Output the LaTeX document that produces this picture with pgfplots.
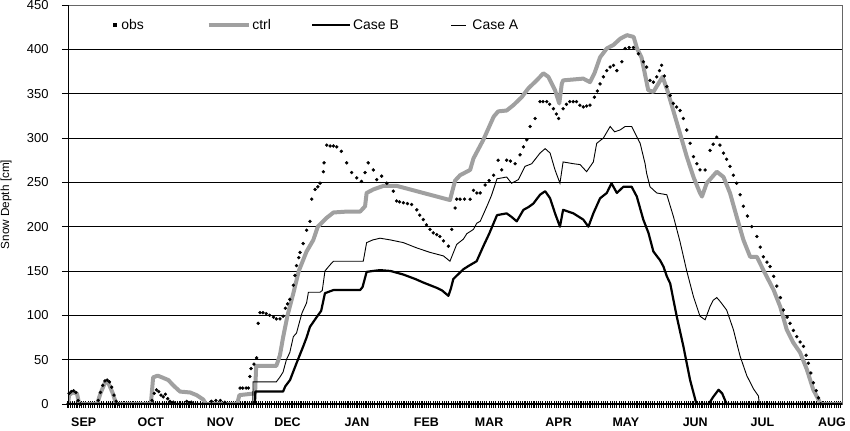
\documentclass[border=0pt]{standalone}
\usepackage{fontspec}
\setmainfont{Liberation Sans}
\usepackage{pgfplots}
\pgfplotsset{compat=1.18}
\definecolor{ctrlgray}{RGB}{160,160,160}

\begin{document}
\begin{tikzpicture}
\begin{axis}[
    scale only axis,
    width=774bp, height=399bp,
    xmin=0, xmax=345.5,
    ymin=0, ymax=450,
    xtick={7,37,68,98,129,160,188,219,249,280,310,341},
    xticklabels={SEP,OCT,NOV,DEC,JAN,FEB,MAR,APR,MAY,JUN,JUL,AUG},
    minor xtick={0,1,...,345},
    ytick={0,50,...,450},
    ymajorgrids=true,
    grid style={black, line width=0.6bp},
    tick pos=left, tick align=center,
    major tick length=12bp, minor tick length=7bp,
    major x tick style={draw=none},
    minor x tick style={black, line width=1.1bp},
    major y tick style={black, line width=0.6bp},
    axis line style={black!60, line width=0.6bp},
    /pgf/number format/assume math mode=true,
    yticklabel style={font=\fontsize{13}{15}\selectfont, xshift=-10bp},
    xticklabel style={font=\fontsize{12.5}{14}\selectfont\bfseries, yshift=-4.5bp},
    ylabel={Snow Depth [cm]},
    every axis y label/.style={at={(rel axis cs:0,0.5)}, xshift=-62bp, rotate=90, anchor=center, font=\fontsize{11.8}{13}\selectfont},
    legend columns=-1,
    legend style={at={(rel axis cs:0.054,0.95)}, anchor=west, draw=none, fill=none,
        font=\fontsize{14}{16}\selectfont,
        /tikz/column 2/.style={column sep=61bp},
        /tikz/column 4/.style={column sep=38bp},
        /tikz/column 6/.style={column sep=50bp}},
]
% legend entries in the reference order
\addlegendimage{legend image code/.code={\fill[black] (0bp,-1.4bp) rectangle (3.5bp,1.4bp); \path (6bp,0bp);}}
\addlegendentry{obs}
\addlegendimage{legend image code/.code={\draw[ctrlgray, line width=3.5bp] (0bp,0bp) -- (40bp,0bp);}}
\addlegendentry{ctrl}
\addlegendimage{legend image code/.code={\draw[black, line width=2.2bp] (0bp,0bp) -- (38bp,0bp);}}
\addlegendentry{Case B}
\addlegendimage{legend image code/.code={\draw[black, line width=0.9bp] (0bp,0bp) -- (15bp,0bp); \path (19bp,0bp);}}
\addlegendentry{Case A}

% ctrl
\addplot[ctrlgray, line width=4bp, line join=round, forget plot] coordinates {
(0,0)(0.5,10)(2,13)(4,12)(5,0)(13,0)(14.5,12)(16.5,24)(18,24)(20,12)(21.5,0)
(37,0)(38,30)(40,32)(42,30)(44.8,27)(47,21)(50,14)(54.5,13)(57.4,10)(60.4,5)(61.5,0)
(75.5,0)(76.5,10)(83.5,12)(84,43)(93,43)(94.6,55)(96,75)(98,100)(100.6,125)(103,150)
(106.5,172)(109.5,185)(111.5,200)(115.5,210)(118.5,216)(124.4,217)(130.4,217)(132.6,223)
(133.3,238)(136.3,242)(140.8,246)(146.7,246)(152.7,242)(158.6,238)(164.6,234)(170.5,230)
(172.8,252)(175,258)(179.5,264)(181,277)(185.4,298)(190,324)(192,330)(195.8,331)(198.8,337)
(202.5,346)(205.5,356)(209.2,365)(212.2,373)(214.4,369)(217.4,354)(219.3,339)(220.4,361)
(221,365)(225.6,366)(230,367)(233,363)(235,373)(237.5,391)(240.5,401)(243.5,405)(246.5,412)
(249.5,416)(252.5,414)(254,401)(256,391)(259,354)(261.3,352)(265.4,369)(267.5,354)
(270.3,330)(273.2,305)(276.2,279)(279.2,256)(282.1,238)(283,234)(285.1,249)(289.6,262)
(292.6,256)(295.5,238)(298.5,211)(301.5,185)(304.5,166)(307.5,166)(310.4,151)(314.9,129)
(317.9,110)(320.8,84)(323.8,69)(326.8,58)(329.8,39)(332.7,16)(335,5)(336,0)(345.5,0)
};
% Case A
\addplot[black, line width=0.9bp, forget plot] coordinates {
(0,0)(82.5,0)(82.6,25)(93,25)(94.5,30)(96,36)(97.5,50)(99,58)(100.6,76)(102,80)(103.6,95)
(104.5,103)(106.5,114)(107.3,126)(112.5,126)(113.5,128)(114.7,150)(117,157)(118.5,161)
(131.8,161)(133.3,182)(136,185)(139.3,187)(144,185)(149.7,182)(155.7,176)(161.6,171)
(167.6,167)(170.5,161)(173.5,180)(176.5,186)(178,192)(181,197)(182.5,204)(184,206)(187,223)
(189,235)(191.5,254)(195.8,256)(198,249)(201,253)(204,268)(207,271)(210.7,283)(213,288)
(215.2,283)(217.4,264)(219.6,249)(221,273)(225.6,271)(228.6,270)(231.5,262)(234.5,273)
(236,294)(239,300)(242,313)(244,307)(246.4,309)(248.7,313)(251.6,313)(254,301)(255.4,294)
(257.6,271)(258.3,260)(259.8,245)(262.8,238)(267.3,236)(270.3,211)(273.2,183)(276.2,150)
(279.2,121)(282.1,99)(284.4,95)(286.6,110)(288,117)(289.6,120)(291,116)(294,106)(297,84)
(300,54)(303,32)(306,17)(308.2,9)(308.6,0)(345.5,0)
};
% Case B
\addplot[black, line width=2.2bp, line join=round, forget plot] coordinates {
(0,0)(83.5,0)(83.6,14)(96,14)(97,20)(99.1,27)(102,46)(105,65)(106.5,75)(108,87)(111,98)
(113,105)(114.7,125)(118.5,128.5)(130.4,128.5)(131.5,132)(133.3,149)(136,150)(139.3,151)
(144,150)(149.7,146)(155,141)(158.6,137)(164.6,131)(167,128)(169.8,122)(171,131)(172,141)
(176.5,152)(179,156)(182.4,161)(185.4,178)(188,192)(190,204)(191.5,213)(195.8,215)(198,211)
(200.3,206)(203.3,219)(205.5,222)(207.7,226)(210.7,236)(213,240)(215.2,232)(217.4,215)
(219.6,200)(221,219)(225.6,215)(230,208)(232.3,200)(234.5,215)(237.5,232)(240.5,238)
(242.6,249)(245,238)(247.9,245)(251.6,245)(253.9,234)(256.8,208)(259.1,193)(261.3,172)
(264.3,162)(265.8,155)(267.3,144)(268.8,136)(271.7,99)(274.7,65)(277.7,27)(280,5)(280.5,0)
(286,0)(288,8)(290.4,16)(292,12)(294,0)(345.5,0)
};
% obs
\addplot[only marks, mark=*, mark size=1.5bp, black, forget plot] coordinates {
(0,0)(0.5,12)(1.5,14)(2.5,15)(3.5,13)(4.5,4)(5.5,0)
(13.5,4)(14.5,13)(15.5,21)(16.5,26)(17.5,27)(18.5,25)(19.5,19)(20.5,10)(21.5,3)(22.5,0)
(37.5,4)(38.5,12)(39.5,16)(40.5,14)(41.5,10)(42.5,8)(43.5,11)(44.5,6)(45.5,3)(47,2)(53,3)
(55,2)(64,3)(66,4)(68,4)(70,2)
(76.8,18)(78,18)(79.5,18)(80.5,18)(81.2,31)(81.7,40)(83,45)(84.2,52)(84.9,91)(85.7,103)
(87,103)(88.5,102)(90,100)(91.7,98)(93,96)(94.6,96)(96,99)(97,108)(98,113)(99,118)
(100.6,134)(101.3,145)(102,156)(103,165)(103.6,171)(105,181)(106.5,196)(108,206)(108.8,231)
(110.3,242)(111.5,245)(112.5,249)(114,262)(114.3,272)(115.5,292)(117,291)(118.5,291)
(120,290)(122,285)(124.4,272)(126.6,261)(128.9,255)(131,251)(132.6,261)(134,272)(136.3,264)
(137.8,253)(140,257)(142.3,249)(145.2,240)(146.7,229)(148,228)(149.7,227)(151.5,226)
(153.4,225)(155.7,219)(157,213)(158.6,208)(160,202)(161.6,197)(163,193)(164.6,191)(166,189)
(167.6,184)(169.8,178)(171.3,197)(172.8,221)(173.5,231)(175,231)(177,231)(179.5,231)(181,241)
(182.5,238)(184,238)(186.2,247)(188,252)(190,258)(192,275)(193.6,264)(195.8,275)(197.5,274)
(199.6,271)(201.8,281)(203.3,290)(204.8,298)(206.3,313)(208.5,322)(210.7,341)(212,341)
(213.7,341)(215,338)(216.7,333)(218,327)(219,322)(221,333)(222.5,338)(224,341)(225.5,341)
(227,341)(228.5,337)(230,335)(231.5,336)(233,337)(235,346)(236.3,353)(237.5,361)(239,369)
(240.5,376)(242,380)(243.5,382)(245,376)(247.2,386)(248.7,401)(250.5,402)(252.4,402)
(254.6,395)(256.8,386)(258.3,380)(259.8,365)(261.3,363)(262.8,369)(264,376)(265,382)
(266.2,370)(267.3,358)(268.8,348)(270.2,339)(271.7,335)(273.2,331)(274.7,322)(276.2,309)
(277.7,294)(279.2,279)(280.7,271)(282.1,264)(284.4,264)(286.6,286)(288,293)(289.6,301)
(291,292)(292.6,283)(294,276)(295.5,268)(297,258)(298.5,249)(300,236)(301.5,223)(303.3,212)
(305.2,200)(307.5,189)(309,177)(310.4,166)(312,160)(313.4,155)(315,144)(316.4,133)(318,120)
(319.3,106)(321,98)(322.3,91)(323.8,83)(325.3,76)(326.8,70)(328.3,65)(329.5,55)(330.5,46)
(331.6,35)(332.7,24)(334,15)(335,7)(336,0)
};
% heavier left axis and zero line, as in the reference
\draw[black, line width=1.6bp] (rel axis cs:0,0) -- (rel axis cs:0,1);
\draw[black, line width=3bp] (rel axis cs:0,0) -- (rel axis cs:1,0);
\coordinate (O) at (rel axis cs:0,0);
\end{axis}
\pgfresetboundingbox
\path[use as bounding box] (O) ++(-68bp,-27bp) rectangle ++(850bp,431bp);
\end{tikzpicture}
\end{document}
